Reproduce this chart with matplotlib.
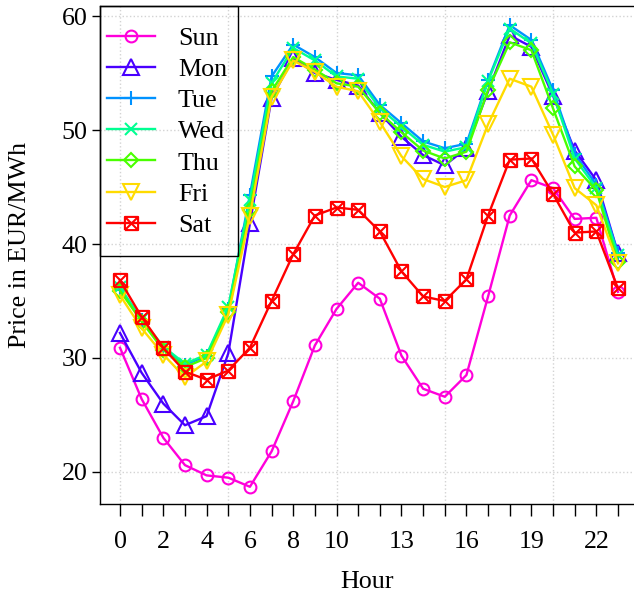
import numpy as np
import matplotlib
matplotlib.use("Agg")
import matplotlib.pyplot as plt
from matplotlib.path import Path
from matplotlib.patches import Rectangle

plt.rcParams['font.family'] = ['Liberation Serif', 'DejaVu Serif']

hours = list(range(24))
days = ['Sun', 'Mon', 'Tue', 'Wed', 'Thu', 'Fri', 'Sat']

sun = [30.9, 26.4, 23.0, 20.6, 19.7, 19.5, 18.7, 21.8, 26.2, 31.1, 34.3, 36.6,
       35.2, 30.2, 27.3, 26.6, 28.5, 35.4, 42.5, 45.6, 44.9, 42.2, 42.3, 35.8]
mon = [32.2, 28.7, 26.0, 24.1, 24.9, 30.4, 41.8, 52.8, 56.3, 55.0, 54.4, 53.9,
       51.5, 49.4, 47.8, 46.9, 48.4, 53.4, 58.3, 57.3, 53.0, 48.2, 45.6, 39.2]
tue = [36.0, 33.3, 30.9, 29.4, 30.2, 34.3, 44.3, 54.7, 57.5, 56.4, 55.0, 54.8,
       52.2, 50.6, 49.0, 48.4, 48.8, 54.4, 59.2, 57.9, 53.5, 47.9, 45.2, 39.2]
wed = [36.2, 33.4, 31.0, 29.5, 30.3, 34.5, 43.9, 54.1, 57.2, 56.1, 54.7, 54.5,
       51.9, 50.3, 48.7, 48.1, 48.5, 54.3, 58.9, 57.6, 53.2, 47.5, 44.9, 39.0]
thu = [35.9, 33.2, 30.7, 29.2, 30.0, 34.0, 43.0, 53.4, 56.4, 55.3, 54.1, 53.8,
       51.5, 49.8, 48.2, 47.5, 48.1, 53.5, 57.7, 57.0, 51.9, 46.8, 44.7, 38.4]
fri = [35.5, 32.6, 30.3, 28.3, 29.7, 33.8, 42.5, 52.9, 56.1, 55.1, 53.8, 53.4,
       50.7, 47.7, 45.7, 45.0, 45.6, 50.5, 54.5, 53.8, 49.6, 44.9, 43.4, 38.3]
sat = [36.8, 33.6, 30.9, 28.8, 28.1, 28.9, 30.9, 35.0, 39.1, 42.5, 43.2, 43.0,
       41.1, 37.6, 35.4, 35.0, 36.9, 42.5, 47.4, 47.5, 44.4, 41.0, 41.1, 36.1]

series = [sun, mon, tue, wed, thu, fri, sat]
colors = ['#FF00DB', '#4900FF', '#0092FF', '#00FF92', '#49FF00', '#FFDB00', '#FF0000']

# boxed cross like R pch 7
boxx = Path([(-1, -1), (1, -1), (1, 1), (-1, 1), (-1, -1),
             (-1, -1), (1, 1), (-1, 1), (1, -1)],
            [Path.MOVETO, Path.LINETO, Path.LINETO, Path.LINETO, Path.LINETO,
             Path.MOVETO, Path.LINETO, Path.MOVETO, Path.LINETO])
markers = ['o', '^', '+', 'x', 'D', 'v', boxx]
msizes = [8.5, 11, 10.5, 8.5, 7.5, 11, 9.5]

xticklabels = ['0', '', '2', '', '4', '', '6', '', '8', '', '10', '', '',
               '13', '', '', '16', '', '', '19', '', '', '22', '']

fig = plt.figure(figsize=(6.34, 5.99), dpi=100)
ax = fig.add_axes([100 / 634, 95 / 599, 534 / 634, 498 / 599])

for g in [0, 5, 10, 15, 20]:
    ax.axvline(g, color='#D3D3D3', ls=':', lw=1, zorder=0)
for g in [20, 30, 40, 50, 60]:
    ax.axhline(g, color='#D3D3D3', ls=':', lw=1, zorder=0)

for name, vals, c, m, ms in zip(days, series, colors, markers, msizes):
    ax.plot(hours, vals, color=c, lw=1.7, marker=m, ms=ms, mfc='none',
            mec=c, mew=1.5, label=name)

ax.set_xlim(-0.924, 23.74)
ax.set_ylim(17.19, 60.88)
ax.set_xticks(hours)
ax.set_xticklabels(xticklabels)
ax.set_yticks([20, 30, 40, 50, 60])
ax.tick_params(axis='x', direction='out', length=8.5, width=1, labelsize=18.7, pad=11)
ax.tick_params(axis='y', direction='out', length=6, width=1, labelsize=18.7, pad=3)
ax.spines['right'].set_visible(False)
for s in ['left', 'bottom', 'top']:
    ax.spines[s].set_linewidth(1)

ax.set_xlabel('Hour', fontsize=18.7)
ax.xaxis.set_label_coords(0.5, -0.135)
ax.set_ylabel('Price in EUR/MWh', fontsize=18.7)
ax.yaxis.set_label_coords(-0.13, 0.52)

leg = ax.legend(loc='upper left', bbox_to_anchor=(0.013, 0.959), borderaxespad=0,
                fontsize=18.7, handlelength=1.85, handletextpad=0.88,
                labelspacing=0.31, borderpad=0, frameon=False)
ax.add_patch(Rectangle((0, 0.498), 0.2584, 0.502, transform=ax.transAxes,
                       fill=False, lw=1, ec='black', clip_on=False, zorder=5))

fig.savefig('out.png', dpi=100)
